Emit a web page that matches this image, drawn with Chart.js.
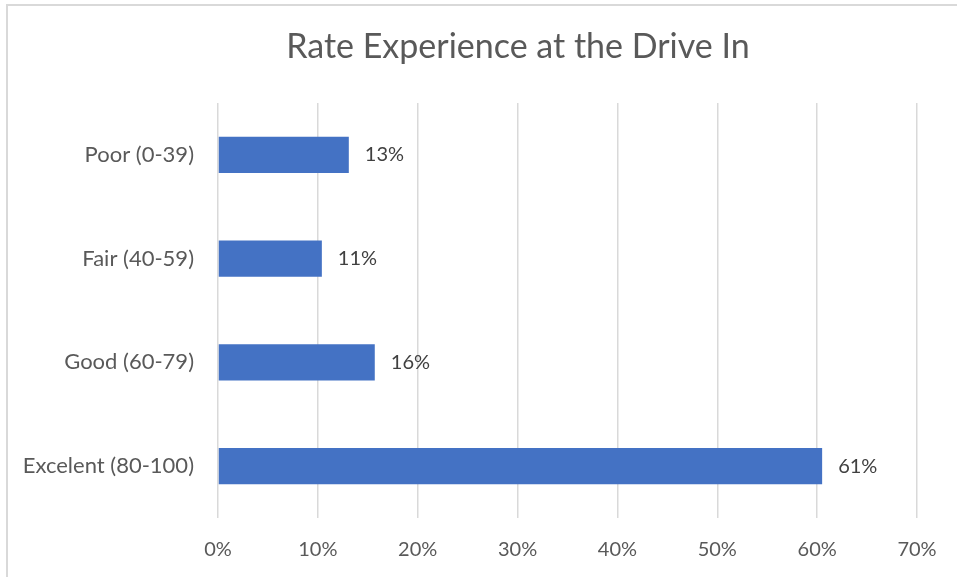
<!DOCTYPE html>
<html lang="en">
<head>
    <meta charset="UTF-8">
    <title>Rate Experience at the Drive In</title>
    <script src="https://cdn.jsdelivr.net/npm/chart.js"></script>
    <style>
        body {
            margin: 0;
            background: #ffffff;
        }

        .frame {
            position: absolute;
            left: 6px;
            top: 4px;
            width: 951px;
            height: 573px;
            border-left: 2px solid #d9d9d9;
            border-top: 2px solid #d9d9d9;
        }

        .chart-container {
            position: absolute;
            left: 0;
            top: 0;
            width: 957px;
            height: 577px;
        }
    </style>
</head>
<body>
    <div class="frame"></div>
    <div class="chart-container">
        <canvas id="rate-chart"></canvas>
    </div>
    <script>
        const categories = ['Poor (0-39)', 'Fair (40-59)', 'Good (60-79)', 'Excelent (80-100)'];
        const shares = [13.1, 10.4, 15.7, 60.5];
        const shareLabels = ['13%', '11%', '16%', '61%'];
        const chartTitle = 'Rate Experience at the Drive In';
        const axisMax = 70;

        const fontFamily = "Lato, 'Open Sans', sans-serif";

        // title + value labels drawn by hand (title sits off-centre like the original)
        const barLabels = {
            id: 'barLabels',
            afterDatasetsDraw(chart) {
                const ctx = chart.ctx;
                const meta = chart.getDatasetMeta(0);
                ctx.save();
                ctx.font = `20px ${fontFamily}`;
                ctx.fillStyle = '#404040';
                ctx.textAlign = 'left';
                ctx.textBaseline = 'middle';
                meta.data.forEach((bar, i) => {
                    ctx.fillText(shareLabels[i], bar.x + 16, bar.y);
                });

                ctx.font = `34px ${fontFamily}`;
                ctx.fillStyle = '#595959';
                ctx.textAlign = 'center';
                ctx.textBaseline = 'alphabetic';
                ctx.fillText(chartTitle, 518, 58);
                ctx.restore();
            }
        };

        new Chart(document.getElementById('rate-chart'), {
            type: 'bar',
            data: {
                labels: categories,
                datasets: [{
                    data: shares,
                    backgroundColor: '#4472C4',
                    borderWidth: 0,
                    barPercentage: 0.35,
                    categoryPercentage: 1
                }]
            },
            options: {
                indexAxis: 'y',
                responsive: true,
                maintainAspectRatio: false,
                animation: false,
                layout: {
                    padding: { left: 0, right: 40, top: 103, bottom: 0 }
                },
                plugins: {
                    legend: { display: false },
                    tooltip: { enabled: false },
                    title: { display: false }
                },
                scales: {
                    x: {
                        min: 0,
                        max: axisMax,
                        ticks: {
                            stepSize: 10,
                            color: '#595959',
                            padding: 20,
                            font: { family: fontFamily, size: 20 },
                            callback: v => v + '%'
                        },
                        grid: {
                            color: '#d9d9d9',
                            lineWidth: 1.5,
                            drawTicks: false
                        },
                        border: { display: false },
                        afterFit: scale => { scale.height = 59; }
                    },
                    y: {
                        ticks: {
                            color: '#595959',
                            padding: 24,
                            font: { family: fontFamily, size: 22 }
                        },
                        grid: { display: false, drawTicks: false },
                        border: { display: false },
                        afterFit: scale => { scale.width = 218; }
                    }
                }
            },
            plugins: [barLabels]
        });
    </script>
</body>
</html>
